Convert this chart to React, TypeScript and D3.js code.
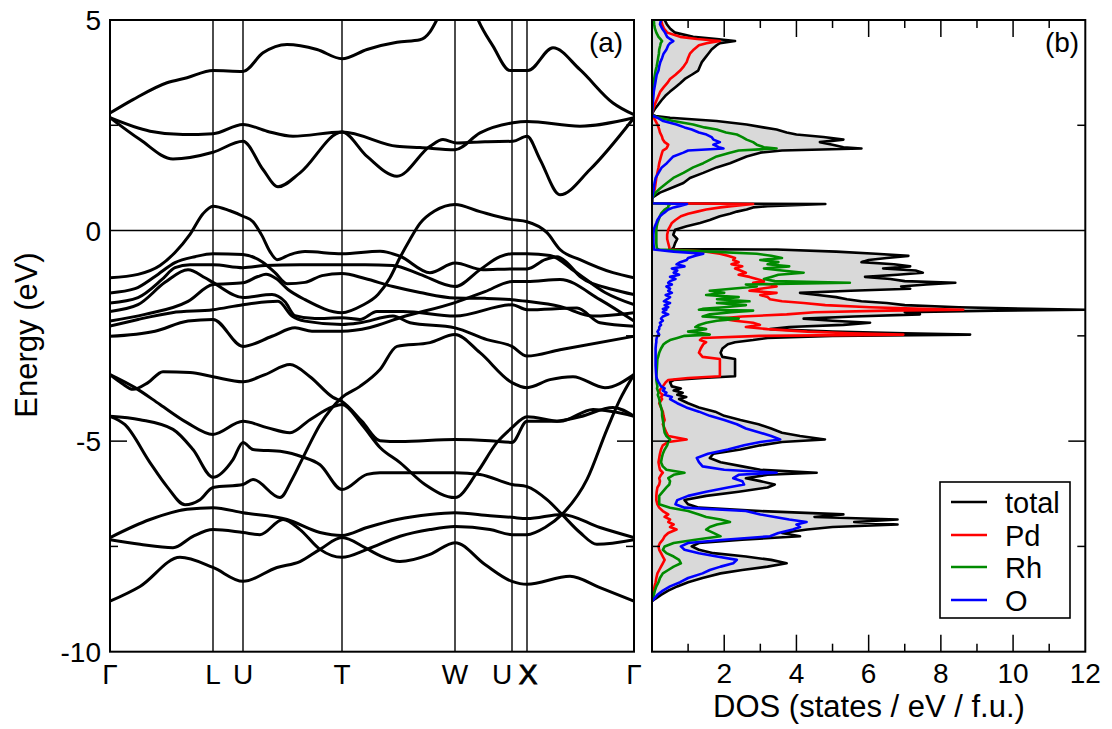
import React from "react";
import * as d3 from "d3";

// ---------- Band structure (k in path units, E in eV) ----------
const kPointLabels = ["Γ", "L", "U", "T", "W", "U", "X", "Γ"];
const kPointPositions = [0, 1.03, 1.33, 2.32, 3.45, 4.02, 4.17, 5.24];
const energyMajorTicks = [5, 0, -5, -10];
const energyMinorTicks = [2.5, -2.5, -7.5];
const dosTickValues = [1, 2, 3, 4, 5, 6, 7, 8, 9, 10, 11];
const dosTickLabels = [2, 4, 6, 8, 10, 12];

const bandC1 = [[0,2.79],[0.23,3.11],[0.57,3.51],[0.77,3.63],[1.03,3.80],[1.33,3.78],[1.53,4.22],[1.77,4.42],[2.07,4.30],[2.32,4.08],[2.57,4.30],[2.87,4.47],[3.10,4.53],[3.20,4.72],[3.27,5.01],[3.35,5.37]];
const bandC2 = [[3.62,5.37],[3.68,5.01],[3.83,4.38],[4.00,3.80],[4.18,3.80],[4.43,4.34],[4.70,3.82],[5.03,3.03],[5.24,2.75]];
const bandC3 = [[0,2.68],[0.40,2.36],[0.73,2.28],[1.03,2.30],[1.33,2.52],[1.57,2.36],[1.83,2.24],[2.32,2.34],[2.87,2.00],[3.10,1.97],[3.45,1.92],[3.70,2.32],[4.03,2.56],[4.17,2.59],[4.70,2.48],[5.24,2.68]];
const bandC4 = [[0,2.68],[0.30,2.16],[0.63,1.70],[1.03,1.86],[1.33,2.12],[1.53,1.45],[1.68,1.04],[1.90,1.37],[2.32,2.34],[2.57,1.76],[2.87,1.29],[3.20,2.00],[3.33,2.16],[3.47,2.08],[3.75,2.11],[4.03,2.12],[4.17,2.24],[4.30,1.69],[4.50,0.85],[4.80,1.45],[5.24,2.68]];

const bandV1 = [[0,-1.12],[0.28,-1.04],[0.50,-0.83],[0.65,-0.52],[0.80,-0.09],[0.93,0.40],[1.03,0.58],[1.20,0.47],[1.33,0.34],[1.43,0.21],[1.52,-0.12],[1.60,-0.50],[1.67,-0.69],[1.80,-0.57],[1.95,-0.50],[2.32,-0.55],[2.70,-0.49],[2.90,-0.61],[3.20,-1.00],[3.45,-0.77],[3.73,-0.93],[4.02,-0.91],[4.17,-0.91],[4.35,-0.69],[4.47,-0.62],[4.57,-0.76],[4.70,-1.09],[5.03,-1.40],[5.24,-1.52]];
const bandV2 = [[0,-1.48],[0.25,-1.38],[0.45,-1.09],[0.65,-0.76],[0.85,-0.62],[1.03,-0.55],[1.33,-0.57],[1.52,-0.74],[1.65,-1.00],[1.77,-1.26],[1.95,-1.23],[2.12,-1.07],[2.32,-1.02],[2.55,-1.14],[2.83,-1.33],[3.10,-1.47],[3.45,-1.60],[3.75,-1.61],[4.02,-1.64],[4.17,-1.68],[4.50,-1.80],[4.83,-2.03],[5.24,-1.95]];
const bandV3 = [[0,-2.15],[0.35,-1.99],[0.78,-1.68],[1.03,-1.28],[1.33,-1.24],[1.48,-1.09],[1.56,-1.04],[1.66,-1.14],[1.78,-1.40],[1.95,-1.64],[2.32,-1.95],[2.52,-1.78],[2.68,-1.52],[2.80,-1.12],[2.90,-0.64],[3.00,-0.21],[3.10,0.17],[3.25,0.47],[3.45,0.62],[3.70,0.45],[4.02,0.26],[4.17,0.21],[4.37,-0.05],[4.50,-0.45],[4.70,-0.69],[5.03,-1.00],[5.24,-1.12]];
const bandV4 = [[0,-1.72],[0.28,-1.59],[0.52,-1.16],[0.65,-0.88],[0.80,-0.81],[1.03,-0.81],[1.33,-0.88],[1.55,-0.83],[1.90,-0.81],[2.32,-0.81],[2.55,-0.81],[2.83,-0.83],[3.10,-1.04],[3.45,-1.33],[3.70,-0.93],[3.90,-0.62],[4.02,-0.55],[4.17,-0.55],[4.40,-0.59],[4.65,-0.97],[4.95,-1.47],[5.24,-1.76]];
const bandV5 = [[0,-1.92],[0.28,-1.76],[0.55,-1.23],[0.78,-0.93],[0.95,-1.12],[1.03,-1.23],[1.33,-1.59],[1.62,-1.52],[1.75,-1.69],[1.85,-2.02],[2.05,-2.09],[2.32,-2.07],[2.50,-2.11],[2.67,-1.92],[2.93,-1.92],[3.45,-2.03],[4.02,-1.76],[4.17,-1.88],[4.67,-1.84],[4.90,-2.19],[5.24,-2.27]];
const bandV6 = [[0,-2.27],[0.28,-2.11],[0.62,-1.95],[1.03,-1.88],[1.33,-1.76],[1.68,-1.68],[1.82,-2.03],[1.95,-2.15],[2.32,-2.23],[2.50,-2.19],[2.83,-2.03],[3.00,-2.19],[3.45,-2.31],[3.77,-2.59],[4.02,-2.75],[4.17,-2.98],[4.50,-2.83],[5.24,-2.51]];
const bandV7 = [[0,-2.51],[0.45,-2.39],[0.78,-2.15],[1.03,-2.11],[1.33,-2.75],[1.62,-2.51],[1.85,-2.31],[2.02,-2.39],[2.32,-2.39],[2.60,-2.30],[2.90,-2.07],[3.45,-1.71],[3.75,-1.45],[4.02,-1.21],[4.17,-1.21],[4.50,-1.16],[4.90,-1.64],[5.24,-2.15]];

const bandL1 = [[0,-3.42],[0.12,-3.63],[0.23,-3.77],[0.38,-3.61],[0.53,-3.35],[0.80,-3.37],[1.03,-3.47],[1.33,-3.59],[1.55,-3.42],[1.80,-3.18],[2.00,-3.47],[2.23,-3.96],[2.32,-4.06],[2.52,-4.53],[2.70,-4.99],[2.90,-5.01],[3.45,-4.96],[3.80,-4.99],[4.02,-5.03],[4.17,-4.53],[4.43,-4.53],[4.70,-4.42],[5.03,-4.20],[5.24,-4.41]];
const bandL2 = [[0,-3.42],[0.25,-3.73],[0.50,-4.13],[0.77,-4.56],[1.03,-4.84],[1.33,-4.53],[1.57,-4.68],[1.80,-4.80],[2.00,-4.49],[2.23,-4.18],[2.32,-4.13],[2.52,-4.61],[2.70,-5.15],[2.90,-5.51],[3.15,-6.03],[3.45,-6.34],[3.67,-5.75],[3.87,-5.03],[4.02,-4.68],[4.17,-4.42],[4.50,-4.53],[4.83,-4.25],[5.24,-4.41]];
const bandL3 = [[0,-4.41],[0.15,-4.61],[0.40,-5.51],[0.57,-6.08],[0.75,-6.51],[0.90,-6.39],[1.03,-6.10],[1.33,-6.03],[1.43,-5.91],[1.70,-6.34],[1.82,-5.91],[1.93,-5.39],[2.10,-4.61],[2.32,-3.96],[2.50,-3.70],[2.70,-3.30],[2.87,-2.75],[3.20,-2.66],[3.45,-2.47],[3.70,-2.90],[4.02,-3.61],[4.17,-3.73],[4.40,-3.54],[4.63,-3.47],[4.95,-3.73],[5.24,-3.42]];
const bandL4 = [[0,-4.41],[0.30,-4.49],[0.63,-4.72],[0.83,-5.20],[1.03,-5.86],[1.23,-5.44],[1.33,-5.03],[1.43,-5.20],[1.73,-5.25],[1.92,-5.37],[2.10,-5.56],[2.32,-6.15],[2.57,-5.79],[2.70,-5.75],[3.00,-5.75],[3.45,-5.75],[3.70,-5.79],[4.02,-6.03],[4.17,-6.08],[4.37,-6.39],[4.52,-6.74],[4.70,-7.17],[4.87,-7.45],[5.24,-7.34]];
const bandL5 = [[0,-7.29],[0.40,-6.86],[0.77,-6.62],[1.03,-6.58],[1.33,-6.70],[1.77,-6.86],[2.10,-7.17],[2.32,-7.24],[2.57,-7.05],[2.87,-6.86],[3.20,-6.74],[3.45,-6.70],[3.80,-6.77],[4.02,-6.81],[4.17,-6.84],[4.52,-6.74],[4.90,-7.05],[5.24,-7.29]];
const bandL6 = [[0,-7.34],[0.30,-7.45],[0.63,-7.53],[0.83,-7.26],[1.03,-7.10],[1.33,-7.17],[1.50,-7.22],[1.73,-6.86],[1.90,-7.10],[2.10,-7.57],[2.32,-7.76],[2.57,-7.57],[2.90,-7.26],[3.20,-7.10],[3.45,-7.03],[3.80,-7.10],[4.02,-7.22],[4.17,-7.22],[4.35,-7.05],[4.52,-6.74],[4.77,-5.91],[4.97,-4.72],[5.10,-4.01],[5.24,-3.42]];
const bandL7 = [[0,-8.80],[0.30,-8.45],[0.70,-7.76],[1.03,-8.00],[1.33,-8.33],[1.67,-8.00],[1.90,-7.86],[2.10,-7.57],[2.32,-7.29],[2.55,-7.53],[2.70,-7.72],[2.90,-7.86],[3.20,-7.69],[3.45,-7.41],[3.75,-7.93],[4.02,-8.33],[4.17,-8.40],[4.60,-8.21],[4.90,-8.48],[5.24,-8.80]];

const bands = [bandC1, bandC2, bandC3, bandC4, bandV1, bandV2, bandV3, bandV4, bandV5, bandV6, bandV7, bandL1, bandL2, bandL3, bandL4, bandL5, bandL6, bandL7];

// ---------- Density of states (states / eV / f.u.) ----------
const dosEnergy = [5.0,4.9,4.8,4.7,4.6,4.55,4.5,4.45,4.4,4.3,4.2,4.1,4.0,3.9,3.8,3.7,3.6,3.5,3.4,3.3,3.2,3.1,3.0,2.9,2.8,2.75,
  2.72,2.68,2.6,2.52,2.45,2.4,2.33,2.28,2.22,2.16,2.1,2.04,1.98,1.95,1.9,1.85,1.76,1.6,1.5,1.37,1.25,1.13,1.0,0.9,0.8,0.75,
  0.65,0.63,0.58,0.55,0.5,0.45,0.4,0.34,0.25,0.18,0.1,0.02,-0.1,-0.2,-0.3,-0.4,-0.44,
  -0.45,-0.5,-0.55,-0.6,-0.65,-0.7,-0.75,-0.8,-0.85,-0.9,-0.95,-1.0,-1.05,-1.1,-1.15,-1.2,-1.24,-1.28,-1.33,-1.38,-1.43,-1.48,-1.53,-1.58,-1.63,-1.68,-1.72,-1.77,-1.82,-1.86,-1.88,-1.9,-1.94,-1.99,-2.04,-2.09,-2.14,-2.19,-2.24,-2.29,-2.34,-2.4,-2.44,-2.47,-2.5,-2.55,-2.6,-2.65,-2.7,-2.8,-2.9,-3.0,-3.05,-3.2,-3.35,-3.46,-3.5,-3.55,-3.6,-3.7,-3.75,-3.8,-3.85,-3.9,-3.95,-4.0,-4.1,-4.2,-4.3,-4.4,-4.5,-4.6,-4.7,-4.8,-4.88,-4.96,-5.02,-5.1,-5.2,-5.3,-5.4,-5.5,-5.6,-5.68,-5.75,-5.8,-5.88,-5.95,-6.03,-6.1,-6.2,-6.3,-6.4,-6.5,-6.58,-6.66,-6.74,-6.8,-6.86,-6.92,-6.98,-7.04,-7.1,-7.18,-7.26,-7.34,-7.42,-7.5,-7.58,-7.66,-7.74,-7.82,-7.9,-7.98,-8.06,-8.14,-8.25,-8.35,-8.45,-8.55,-8.65,-8.75,-8.8];
const dosTotal = [0.35,0.41,0.50,0.64,1.14,1.79,2.30,1.88,1.79,1.65,1.56,1.47,1.38,1.33,1.28,1.10,0.91,0.78,0.64,0.50,0.37,0.27,0.18,0.09,0.02,0,
  0.10,0.50,1.79,2.62,3.08,3.45,3.73,4.00,4.75,5.30,4.65,5.00,5.30,5.80,3.60,3.00,2.62,2.16,1.79,1.42,1.05,0.87,0.50,0.22,0.04,0,
  0,4.80,3.20,2.80,2.62,2.35,2.16,1.88,1.60,1.33,0.96,0.64,0.59,0.70,0.64,0.60,0.55,
  3.45,5.10,6.20,7.10,6.50,6.00,5.80,6.70,7.15,6.40,7.30,7.50,6.80,5.90,6.60,7.00,8.40,7.60,6.90,7.15,5.50,4.10,4.60,5.10,5.40,5.80,6.50,7.00,8.50,10.50,12.0,9.50,7.00,7.42,5.60,4.20,5.00,6.04,5.30,3.80,3.27,5.00,7.00,8.81,5.00,3.20,2.80,2.30,2.10,1.95,1.90,1.95,2.30,2.30,2.30,2.30,1.40,0.60,0.50,0.55,0.80,0.60,0.85,0.70,0.95,0.75,1.00,1.30,1.75,2.00,2.45,2.95,3.30,3.60,4.10,4.79,3.60,3.00,2.45,1.70,1.60,1.90,2.50,3.00,4.56,3.20,2.60,3.00,3.40,3.20,2.40,1.50,0.90,1.00,1.30,3.00,5.30,4.50,6.80,5.60,6.80,5.00,4.30,3.60,4.10,2.50,1.30,1.10,1.30,1.70,2.60,3.30,3.73,3.20,2.50,1.90,1.40,1.00,0.70,0.45,0.25,0.08,0];
const dosPd = [0.25,0.28,0.33,0.42,0.78,1.25,1.88,1.51,1.30,1.16,1.05,1.00,0.96,0.88,0.78,0.65,0.50,0.42,0.32,0.23,0.18,0.13,0.08,0.04,0.01,0,
  0.01,0.05,0.10,0.15,0.18,0.20,0.22,0.25,0.28,0.30,0.35,0.45,0.42,0.40,0.30,0.28,0.25,0.20,0.18,0.15,0.12,0.10,0.08,0.05,0.02,0,
  0,2.80,2.20,1.90,1.50,1.25,1.00,0.80,0.65,0.55,0.50,0.45,0.42,0.42,0.45,0.48,0.48,
  0.50,1.50,1.88,2.10,2.30,2.25,2.40,2.20,2.50,2.30,2.45,2.60,2.40,2.70,2.90,3.10,2.80,3.30,3.45,3.00,2.70,3.45,3.00,3.20,3.27,3.60,4.20,4.80,6.04,7.50,8.62,6.50,4.50,3.73,2.50,1.88,2.30,2.80,2.99,2.60,3.20,4.30,5.50,6.96,3.00,1.40,1.33,1.50,1.42,1.35,1.30,1.40,1.88,1.88,1.88,1.88,1.00,0.45,0.38,0.30,0.25,0.20,0.22,0.30,0.25,0.28,0.20,0.25,0.30,0.32,0.35,0.30,0.35,0.40,0.45,0.96,0.45,0.30,0.25,0.22,0.20,0.18,0.20,0.22,0.30,0.25,0.20,0.22,0.20,0.15,0.13,0.12,0.12,0.15,0.20,0.30,0.45,0.35,0.50,0.45,0.60,0.50,0.68,0.45,0.35,0.30,0.22,0.18,0.20,0.25,0.30,0.35,0.30,0.25,0.20,0.15,0.12,0.10,0.07,0.05,0.03,0.01,0];
const dosRh = [0.05,0.06,0.08,0.12,0.18,0.23,0.28,0.24,0.23,0.20,0.19,0.17,0.15,0.13,0.10,0.08,0.06,0.05,0.04,0.03,0.02,0.02,0.01,0.01,0,0,
  0.03,0.20,0.59,1.14,1.45,1.79,2.05,2.35,2.50,2.62,2.80,2.90,3.10,3.45,2.40,2.16,1.79,1.42,1.14,0.87,0.59,0.41,0.22,0.10,0.02,0,
  0,0.50,0.45,0.45,0.35,0.30,0.25,0.22,0.18,0.15,0.13,0.12,0.12,0.12,0.12,0.13,0.15,
  0.20,1.60,2.90,3.30,3.60,3.00,3.50,3.20,3.80,3.10,3.60,4.20,3.50,3.30,3.10,3.40,5.48,2.60,2.90,2.20,1.60,2.00,1.50,2.40,1.80,2.70,1.80,2.60,2.00,1.40,1.30,2.80,2.20,1.60,1.40,2.40,1.80,1.50,1.30,1.20,1.50,1.00,1.40,1.60,0.90,0.70,0.50,0.40,0.32,0.25,0.20,0.17,0.15,0.14,0.13,0.12,0.12,0.12,0.13,0.15,0.14,0.16,0.18,0.16,0.18,0.20,0.22,0.25,0.28,0.28,0.30,0.32,0.33,0.35,0.40,0.50,0.45,0.42,0.35,0.30,0.27,0.25,0.30,0.40,0.90,0.60,0.45,0.50,0.48,0.40,0.30,0.20,0.20,0.20,0.50,1.00,1.30,1.50,1.90,2.16,1.80,1.60,1.50,1.70,1.90,1.20,0.60,0.35,0.30,0.40,0.60,0.75,0.80,0.60,0.45,0.30,0.22,0.18,0.12,0.08,0.05,0.02,0];
const dosO = [0.25,0.22,0.28,0.36,0.42,0.50,0.59,0.50,0.45,0.40,0.32,0.28,0.23,0.20,0.18,0.13,0.11,0.09,0.07,0.05,0.04,0.03,0.02,0.01,0,0,
  0.03,0.15,0.31,0.68,0.90,1.10,1.30,1.51,1.65,1.70,1.88,1.70,1.85,1.98,1.00,0.87,0.59,0.41,0.27,0.18,0.10,0.07,0.05,0.03,0.01,0,
  0,0.97,0.75,0.60,0.45,0.38,0.30,0.22,0.15,0.12,0.08,0.05,0.04,0.04,0.04,0.05,0.05,
  0.05,0.60,1.42,1.20,1.00,0.96,0.78,0.68,0.90,0.55,0.70,0.60,0.75,0.50,0.65,0.50,0.45,0.55,0.40,0.50,0.45,0.55,0.38,0.50,0.42,0.33,0.50,0.35,0.45,0.30,0.40,0.35,0.30,0.45,0.30,0.25,0.30,0.22,0.25,0.20,0.20,0.15,0.18,0.20,0.15,0.13,0.12,0.12,0.11,0.10,0.10,0.10,0.10,0.10,0.11,0.12,0.13,0.15,0.18,0.25,0.35,0.30,0.40,0.35,0.55,0.50,0.70,0.95,1.30,1.60,2.00,2.35,2.60,3.00,3.30,3.55,3.00,2.55,2.10,1.55,1.24,1.30,1.40,2.00,3.45,2.40,2.25,2.50,2.55,2.10,1.50,1.00,0.70,0.65,0.90,2.60,3.00,3.40,3.80,4.28,4.00,4.10,3.90,3.50,3.27,2.00,1.00,0.80,0.90,1.30,1.80,2.35,2.25,1.90,1.60,1.40,1.00,0.78,0.50,0.30,0.15,0.05,0];

const legendLabels = ["total", "Pd", "Rh", "O"];
const seriesColors = ["#000000", "#ff0000", "#008b00", "#0000ff"];

const FONT = "'Liberation Sans', Arial, Helvetica, sans-serif";

export default function App() {
  const width = 1112, height = 729;
  const top = 20, bottom = 651.7;
  const bx0 = 110, bx1 = 634;
  const dx0 = 652, dx1 = 1085.3;

  const y = d3.scaleLinear().domain([-10, 5]).range([bottom, top]);
  const xk = d3.scaleLinear().domain([0, 5.24]).range([bx0, bx1]);
  const xd = d3.scaleLinear().domain([0, 12]).range([dx0, dx1]);

  const bandLine = d3.line<number[]>().x(d => xk(d[0])).y(d => y(d[1])).curve(d3.curveMonotoneX);

  const rows = dosEnergy.map((e, i) => ({ e, total: dosTotal[i], pd: dosPd[i], rh: dosRh[i], o: dosO[i] }));
  const fillArea = d3.area<any>().y(d => y(d.e)).x0(xd(0)).x1(d => xd(d.total))(rows) || "";
  const seriesKeys = ["total", "pd", "rh", "o"];
  const seriesPaths = seriesKeys.map(k => d3.line<any>().x(d => xd(d[k])).y(d => y(d.e))(rows) || "");

  const major = 17, minor = 8;
  const tickStroke = 1.5;

  const energyTickEls: any[] = [];
  const addETicks = (xl: number, xr: number, key: string) => {
    [-5].forEach(v => {
      energyTickEls.push(<line key={key + "ML" + v} x1={xl} x2={xl + major} y1={y(v)} y2={y(v)} stroke="#000" strokeWidth={tickStroke} />);
      energyTickEls.push(<line key={key + "MR" + v} x1={xr - major} x2={xr} y1={y(v)} y2={y(v)} stroke="#000" strokeWidth={tickStroke} />);
    });
    energyMinorTicks.forEach(v => {
      energyTickEls.push(<line key={key + "mL" + v} x1={xl} x2={xl + minor} y1={y(v)} y2={y(v)} stroke="#000" strokeWidth={tickStroke} />);
      energyTickEls.push(<line key={key + "mR" + v} x1={xr - minor} x2={xr} y1={y(v)} y2={y(v)} stroke="#000" strokeWidth={tickStroke} />);
    });
  };
  addETicks(bx0, bx1, "b");
  addETicks(dx0, dx1, "d");

  const legendX = 940, legendY = 482, legendW = 130, legendH = 136;
  const legendRowY = [502, 535, 567, 600];

  return (
    <svg width={width} height={height} style={{ position: "absolute", left: 0, top: 0, background: "#fff" }} fontFamily={FONT}>
      <defs>
        <clipPath id="clipBand"><rect x={bx0} y={top} width={bx1 - bx0} height={bottom - top} /></clipPath>
        <clipPath id="clipDos"><rect x={dx0} y={top} width={dx1 - dx0} height={bottom - top} /></clipPath>
      </defs>
      <rect x={0} y={0} width={width} height={height} fill="#fff" />

      {/* ---------- Band panel ---------- */}
      {kPointPositions.slice(1, -1).map((k, i) => (
        <line key={"v" + i} x1={xk(k)} x2={xk(k)} y1={top} y2={bottom} stroke="#000" strokeWidth={1.4} />
      ))}
      <line x1={bx0} x2={bx1} y1={y(0)} y2={y(0)} stroke="#000" strokeWidth={1.4} />
      <g clipPath="url(#clipBand)">
        {bands.map((b, i) => (
          <path key={"band" + i} d={bandLine(b as number[][]) || ""} fill="none" stroke="#000" strokeWidth={3} strokeLinejoin="round" strokeLinecap="round" />
        ))}
      </g>
      <rect x={bx0} y={top} width={bx1 - bx0} height={bottom - top} fill="none" stroke="#000" strokeWidth={2} />

      {/* ---------- DOS panel ---------- */}
      <g clipPath="url(#clipDos)">
        <path d={fillArea} fill="#d9d9d9" stroke="none" />
        <line x1={dx0} x2={dx1} y1={y(0)} y2={y(0)} stroke="#000" strokeWidth={1.4} />
        {seriesPaths.map((p, i) => (
          <path key={"dos" + i} d={p} fill="none" stroke={seriesColors[i]} strokeWidth={2.6} strokeLinejoin="round" />
        ))}
      </g>
      <rect x={dx0} y={top} width={dx1 - dx0} height={bottom - top} fill="none" stroke="#000" strokeWidth={2} />
      {dosTickValues.map(v => {
        const len = v % 2 === 0 ? major : minor;
        return (
          <g key={"dt" + v}>
            <line x1={xd(v)} x2={xd(v)} y1={bottom} y2={bottom - len} stroke="#000" strokeWidth={tickStroke} />
            <line x1={xd(v)} x2={xd(v)} y1={top} y2={top + len} stroke="#000" strokeWidth={tickStroke} />
          </g>
        );
      })}
      {energyTickEls}

      {/* ---------- Labels ---------- */}
      {energyMajorTicks.map(v => (
        <text key={"el" + v} x={101} y={y(v) + 10} fontSize={28} textAnchor="end">{v}</text>
      ))}
      <text transform={`translate(37,335) rotate(-90)`} fontSize={31} textAnchor="middle">Energy (eV)</text>

      {kPointLabels.map((lab, i) => {
        const x = xk(kPointPositions[i]) + (i === 5 ? -10 : i === 6 ? 1 : 0);
        const bold = lab === "X" ? { stroke: "#000", strokeWidth: 0.9 } : {};
        return <text key={"kl" + i} x={x} y={684} fontSize={28} textAnchor="middle" {...bold}>{lab}</text>;
      })}

      {dosTickLabels.map(v => (
        <text key={"dl" + v} x={xd(v)} y={683} fontSize={28} textAnchor="middle">{v}</text>
      ))}
      <text x={869} y={717} fontSize={31} textAnchor="middle">DOS (states / eV / f.u.)</text>

      <text x={606} y={52} fontSize={28} textAnchor="middle">(a)</text>
      <text x={1062} y={52} fontSize={28} textAnchor="middle">(b)</text>

      {/* ---------- Legend ---------- */}
      <rect x={legendX} y={legendY} width={legendW} height={legendH} fill="#fff" stroke="#000" strokeWidth={1.6} />
      {legendLabels.map((lab, i) => (
        <g key={"lg" + i}>
          <line x1={951} x2={987} y1={legendRowY[i]} y2={legendRowY[i]} stroke={seriesColors[i]} strokeWidth={2.6} />
          <text x={1005} y={legendRowY[i] + 11} fontSize={29}>{lab}</text>
        </g>
      ))}
    </svg>
  );
}
